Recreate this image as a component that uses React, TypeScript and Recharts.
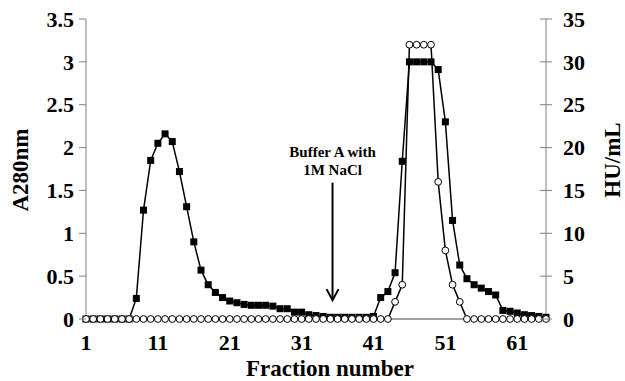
import React from 'react';
import { LineChart, Line, XAxis, YAxis, ReferenceLine } from 'recharts';

// fraction numbers along the x axis
const fractions = [
  1, 2, 3, 4, 5, 6, 7, 8, 9, 10, 11, 12, 13, 14, 15, 16, 17, 18, 19, 20,
  21, 22, 23, 24, 25, 26, 27, 28, 29, 30, 31, 32, 33, 34, 35, 36, 37, 38, 39, 40,
  41, 42, 43, 44, 45, 46, 47, 48, 49, 50, 51, 52, 53, 54, 55, 56, 57, 58, 59, 60,
  61, 62, 63, 64, 65,
];

// absorbance at 280 nm (filled squares, left axis)
const a280 = [
  0, 0, 0, 0, 0, 0, 0, 0.24, 1.27, 1.85,
  2.05, 2.16, 2.07, 1.72, 1.31, 0.9, 0.57, 0.4, 0.31, 0.25,
  0.21, 0.19, 0.17, 0.16, 0.16, 0.16, 0.15, 0.12, 0.12, 0.08,
  0.08, 0.05, 0.04, 0.03, 0.02, 0.02, 0.02, 0.02, 0.02, 0.02,
  0.03, 0.25, 0.32, 0.54, 1.84, 3.0, 3.0, 3.0, 3.0, 2.91,
  2.3, 1.15, 0.63, 0.47, 0.4, 0.36, 0.32, 0.28, 0.1, 0.09,
  0.07, 0.05, 0.04, 0.03, 0.02,
];

// hemagglutination activity (open circles, right axis)
const huPerMl = [
  0, 0, 0, 0, 0, 0, 0, 0, 0, 0,
  0, 0, 0, 0, 0, 0, 0, 0, 0, 0,
  0, 0, 0, 0, 0, 0, 0, 0, 0, 0,
  0, 0, 0, 0, 0, 0, 0, 0, 0, 0,
  0, 0, 0, 2, 4, 32, 32, 32, 32, 16,
  8, 4, 2, 0, 0, 0, 0, 0, 0, 0,
  0, 0, 0, 0, 0,
];

const xTicks = [1, 11, 21, 31, 41, 51, 61];
const leftTicks = [0, 0.5, 1, 1.5, 2, 2.5, 3, 3.5];
const rightTicks = [0, 5, 10, 15, 20, 25, 30, 35];

// arrow marking the switch to high-salt buffer
const arrowFraction = 35.3;
const arrowTop = 1.59;
const arrowBottom = 0.22;

const data = fractions.map((f, i) => ({ fraction: f, a280: a280[i], hu: huPerMl[i] }));

const serif = '"Liberation Serif", "Times New Roman", serif';
const axisGray = '#808080';
const tickFont = 22;

const SquareDot = (props: any) => {
  const { cx, cy, index } = props;
  if (cx == null || cy == null) return <g key={`sq-${index}`} />;
  return <rect key={`sq-${index}`} x={cx - 3.5} y={cy - 3.5} width={7} height={7} fill="#000" />;
};

const LeftTick = ({ x, y, payload }: any) => (
  <g>
    <line x1={x - 7} x2={x} y1={y} y2={y} stroke={axisGray} />
    <text x={x - 12} y={y} dy="0.35em" textAnchor="end" fontFamily={serif} fontWeight="bold" fontSize={tickFont} fill="#000">
      {payload.value}
    </text>
  </g>
);

const RightTick = ({ x, y, payload }: any) => (
  <g>
    <line x1={x - 6} x2={x + 6} y1={y} y2={y} stroke={axisGray} />
    <text x={x + 17} y={y} dy="0.35em" textAnchor="start" fontFamily={serif} fontWeight="bold" fontSize={tickFont} fill="#000">
      {payload.value}
    </text>
  </g>
);

const BottomTick = ({ x, y, payload }: any) => (
  <text x={x} y={y + 23} dy="0.35em" textAnchor="middle" fontFamily={serif} fontWeight="bold" fontSize={tickFont} fill="#000">
    {payload.value}
  </text>
);

const ArrowShape = (props: any) => {
  const { x1, y1, x2, y2 } = props;
  return (
    <g>
      <text x={x1} y={y1 - 26} textAnchor="middle" fontFamily={serif} fontWeight="bold" fontSize={15} fill="#000">
        Buffer A with
      </text>
      <text x={x1} y={y1 - 8} textAnchor="middle" fontFamily={serif} fontWeight="bold" fontSize={15} fill="#000">
        1M NaCl
      </text>
      <line x1={x1} y1={y1} x2={x2} y2={y2} stroke="#000" strokeWidth={2} />
      <polyline points={`${x2 - 6},${y2 - 11} ${x2},${y2} ${x2 + 6},${y2 - 11}`} fill="none" stroke="#000" strokeWidth={2} />
    </g>
  );
};

const titleStyle = { fontFamily: serif, fontWeight: 'bold' as const, fontSize: 23, fill: '#000' };

export default function App() {
  return (
    <div style={{ position: 'absolute', left: 0, top: 0, width: 625, height: 381, background: '#fff' }}>
      <LineChart width={625} height={381} data={data} margin={{ top: 19, right: 0, bottom: 0, left: 0 }}>
        <XAxis
          dataKey="fraction"
          type="number"
          domain={[1, 65]}
          ticks={xTicks}
          interval={0}
          height={62}
          tickSize={0}
          tickMargin={0}
          tickLine={false}
          stroke="#404040"
          tick={<BottomTick />}
          label={{
            content: () => (
              <text x={330} y={368} dy="0.35em" textAnchor="middle" {...titleStyle}>
                Fraction number
              </text>
            ),
          }}
        />
        <YAxis
          yAxisId="left"
          domain={[0, 3.5]}
          ticks={leftTicks}
          width={86}
          tickSize={0}
          tickMargin={0}
          tickLine={false}
          stroke={axisGray}
          tick={<LeftTick />}
          label={{
            content: () => (
              <text x={20} y={170} dy="0.35em" textAnchor="middle" transform="rotate(-90, 20, 170)" {...titleStyle}>
                A280nm
              </text>
            ),
          }}
        />
        <YAxis
          yAxisId="right"
          orientation="right"
          domain={[0, 35]}
          ticks={rightTicks}
          width={79}
          tickSize={0}
          tickMargin={0}
          tickLine={false}
          stroke={axisGray}
          tick={<RightTick />}
          label={{
            content: () => (
              <text x={612} y={160} dy="0.35em" textAnchor="middle" transform="rotate(-90, 612, 160)" {...titleStyle}>
                HU/mL
              </text>
            ),
          }}
        />
        <Line
          yAxisId="left"
          dataKey="a280"
          stroke="#000"
          strokeWidth={1.5}
          dot={SquareDot}
          activeDot={false}
          isAnimationActive={false}
        />
        <Line
          yAxisId="right"
          dataKey="hu"
          stroke="#000"
          strokeWidth={1.5}
          dot={{ r: 3.4, fill: '#fff', stroke: '#000', strokeWidth: 1 }}
          activeDot={false}
          isAnimationActive={false}
        />
        <ReferenceLine
          yAxisId="left"
          segment={[
            { x: arrowFraction, y: arrowTop },
            { x: arrowFraction, y: arrowBottom },
          ]}
          shape={ArrowShape}
        />
      </LineChart>
    </div>
  );
}
